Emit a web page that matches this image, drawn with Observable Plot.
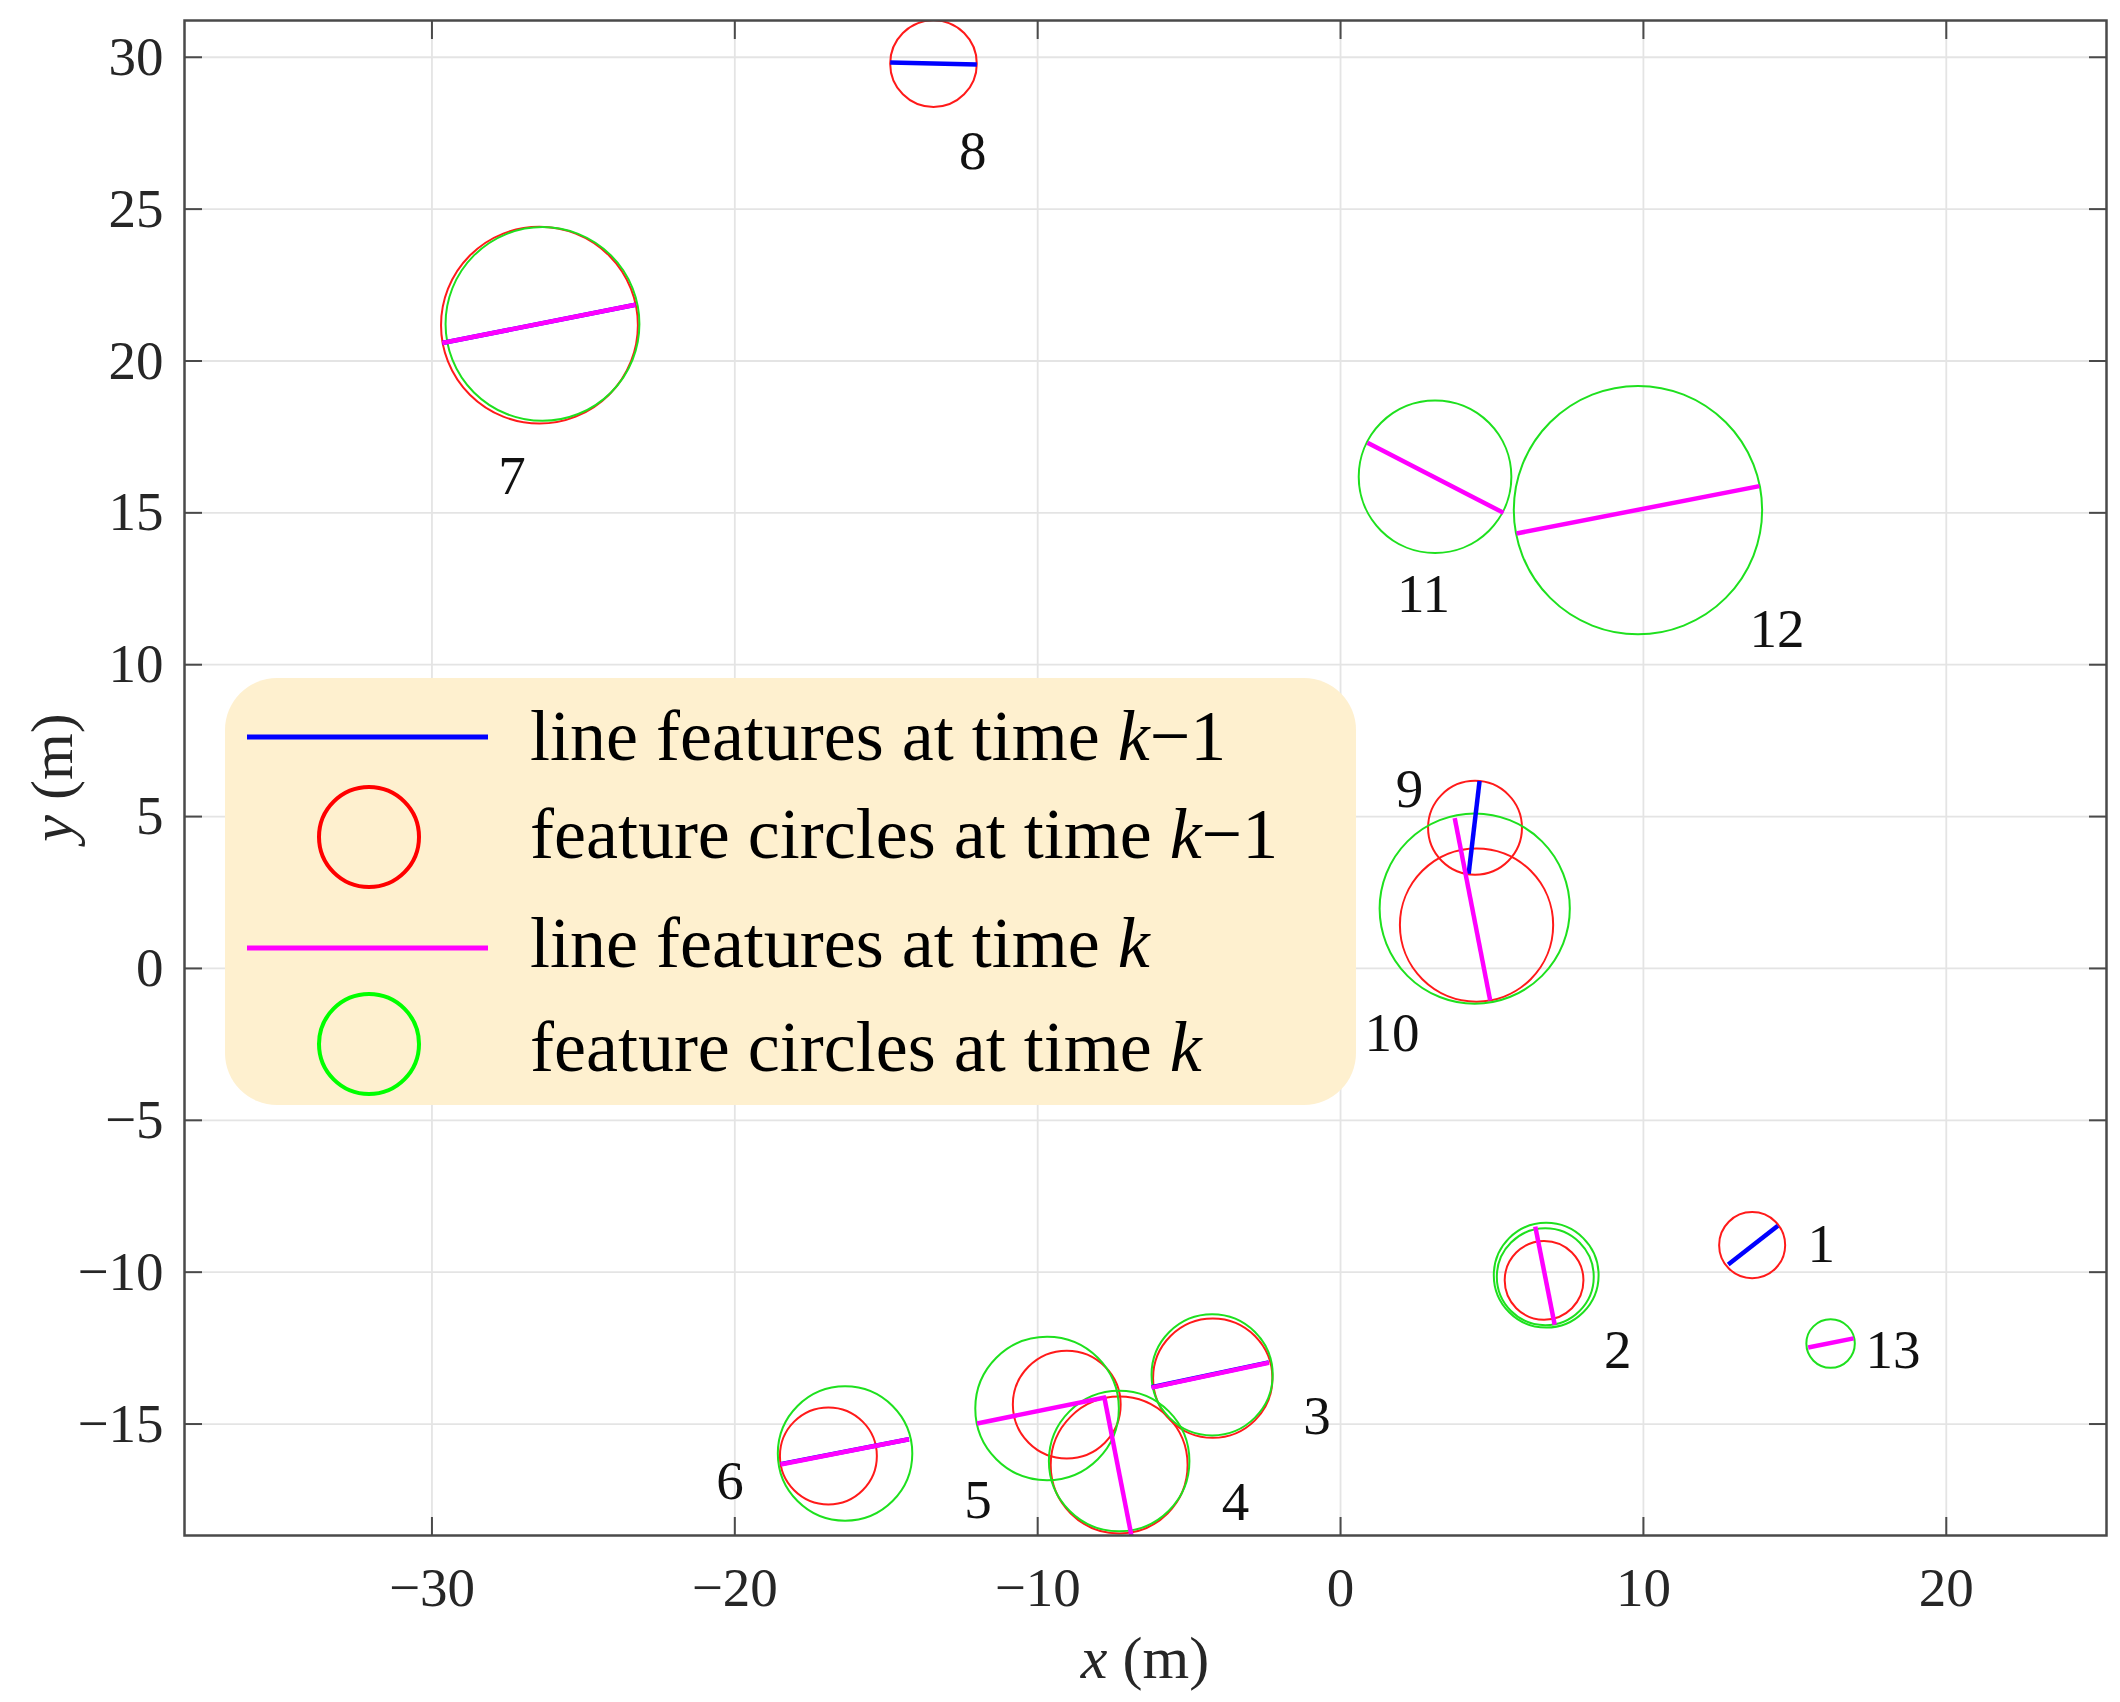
<!DOCTYPE html>
<html><head><meta charset="utf-8">
<script src="https://cdn.jsdelivr.net/npm/d3@7"></script>
<script src="https://cdn.jsdelivr.net/npm/@observablehq/plot@0.6"></script>
<style>
body{margin:0;background:#fff;}
#chart svg{display:block;}
</style>
</head><body><div id="chart"></div>
<script>
// ---- axes ----
const xTicks = [-30, -20, -10, 0, 10, 20];
const yTicks = [-15, -10, -5, 0, 5, 10, 15, 20, 25, 30];
const xDomain = [-38.17, 25.29];
const yDomain = [-18.67, 31.21];

// ---- feature circles at time k-1 (red) ----
const redCircles = [
  {id: 1, x: 13.59, y: -9.11, r: 1.09},
  {id: 2, x: 6.72, y: -10.27, r: 1.30},
  {id: 3, x: -4.22, y: -13.49, r: 1.97},
  {id: 4, x: -7.31, y: -16.35, r: 2.26},
  {id: 5, x: -9.04, y: -14.36, r: 1.78},
  {id: 6, x: -16.91, y: -16.05, r: 1.60},
  {id: 7, x: -26.45, y: 21.18, r: 3.25},
  {id: 8, x: -13.44, y: 29.79, r: 1.43},
  {id: 9, x: 4.44, y: 4.63, r: 1.55},
  {id: 10, x: 4.49, y: 1.43, r: 2.53}
];

// ---- feature circles at time k (green) ----
const greenCircles = [
  {id: 2, x: 6.79, y: -10.10, r: 1.73},
  {id: 2, x: 6.76, y: -10.15, r: 1.60},
  {id: 3, x: -4.24, y: -13.38, r: 2.00},
  {id: 4, x: -7.31, y: -16.22, r: 2.32},
  {id: 5, x: -9.69, y: -14.49, r: 2.37},
  {id: 6, x: -16.36, y: -15.97, r: 2.22},
  {id: 7, x: -26.35, y: 21.22, r: 3.20},
  {id: 10, x: 4.43, y: 1.97, r: 3.14},
  {id: 11, x: 3.12, y: 16.19, r: 2.52},
  {id: 12, x: 9.82, y: 15.09, r: 4.10},
  {id: 13, x: 16.18, y: -12.35, r: 0.80}
];

// ---- line features at time k-1 (blue) ----
const blueLines = [
  {id: 1, x1: 12.80, y1: -9.75, x2: 14.44, y2: -8.47},
  {id: 3, x1: -6.24, y1: -13.79, x2: -2.37, y2: -12.97},
  {id: 6, x1: -18.49, y1: -16.32, x2: -14.25, y2: -15.50},
  {id: 7, x1: -29.66, y1: 20.59, x2: -23.28, y2: 21.85},
  {id: 8, x1: -14.87, y1: 29.83, x2: -12.01, y2: 29.76},
  {id: 9, x1: 4.59, y1: 6.17, x2: 4.23, y2: 3.12}
];

// ---- line features at time k (magenta) ----
const magentaLines = [
  {id: 2, x1: 6.43, y1: -8.50, x2: 7.07, y2: -11.73},
  {id: 3, x1: -6.24, y1: -13.80, x2: -2.37, y2: -12.98},
  {id: 4, x1: -7.80, y1: -14.12, x2: -6.86, y2: -18.90},
  {id: 5, x1: -12.00, y1: -14.98, x2: -7.74, y2: -14.12},
  {id: 6, x1: -18.49, y1: -16.33, x2: -14.25, y2: -15.50},
  {id: 7, x1: -29.66, y1: 20.59, x2: -23.28, y2: 21.85},
  {id: 10, x1: 3.77, y1: 4.95, x2: 4.94, y2: -1.05},
  {id: 11, x1: 0.89, y1: 17.31, x2: 5.38, y2: 15.00},
  {id: 12, x1: 5.81, y1: 14.32, x2: 13.83, y2: 15.88},
  {id: 13, x1: 15.44, y1: -12.48, x2: 16.94, y2: -12.18}
];

// ---- feature number labels ----
const featureLabels = [
  {text: "1", x: 15.87, y: -9.10},
  {text: "2", x: 9.15, y: -12.58},
  {text: "3", x: -0.78, y: -14.75},
  {text: "4", x: -3.47, y: -17.57},
  {text: "5", x: -11.97, y: -17.50},
  {text: "6", x: -20.16, y: -16.88},
  {text: "7", x: -27.36, y: 16.20},
  {text: "8", x: -12.14, y: 26.90},
  {text: "9", x: 2.28, y: 5.90},
  {text: "10", x: 1.70, y: -2.14},
  {text: "11", x: 2.74, y: 12.31},
  {text: "12", x: 14.41, y: 11.16},
  {text: "13", x: 18.24, y: -12.58}
];

// ---- legend ----
const legendItems = [
  {kind: "line", color: "#0000ff", text: "line features at time ", italic: "k", tail: "\u22121"},
  {kind: "circle", color: "#ff0000", text: "feature circles at time ", italic: "k", tail: "\u22121"},
  {kind: "line", color: "#ff00ff", text: "line features at time ", italic: "k", tail: ""},
  {kind: "circle", color: "#00ff00", text: "feature circles at time ", italic: "k", tail: ""}
];

const W = 2120, H = 1702;
const mL = 184, mR = 14, mT = 20, mB = 167;
const pxPerUnit = (W - mL - mR) / (xDomain[1] - xDomain[0]);
const fmt = d => d < 0 ? "\u2212" + Math.abs(d) : String(d);
const font = "'Liberation Serif', 'Times New Roman', serif";
const axisColor = "#4a4a4a";
const gridColor = "#e4e4e4";

const chart = Plot.plot({
  width: W, height: H,
  marginLeft: mL, marginRight: mR, marginTop: mT, marginBottom: mB,
  style: {fontFamily: font, fontSize: "55px", color: "#262626", background: "#fff", overflow: "visible"},
  x: {domain: xDomain},
  y: {domain: yDomain},
  r: {type: "linear", domain: [0, 1], range: [0, pxPerUnit]},
  marks: [
    Plot.gridX(xTicks, {stroke: gridColor, strokeOpacity: 1, strokeWidth: 1.8}),
    Plot.gridY(yTicks, {stroke: gridColor, strokeOpacity: 1, strokeWidth: 1.8}),
    Plot.dot(redCircles, {x: "x", y: "y", r: "r", stroke: "#ff1a1a", strokeWidth: 2, fill: "none", clip: true}),
    Plot.dot(greenCircles, {x: "x", y: "y", r: "r", stroke: "#1ee01e", strokeWidth: 2, fill: "none", clip: true}),
    Plot.link(blueLines, {x1: "x1", y1: "y1", x2: "x2", y2: "y2", stroke: "#0000ff", strokeWidth: 4.5, clip: true}),
    Plot.link(magentaLines, {x1: "x1", y1: "y1", x2: "x2", y2: "y2", stroke: "#ff00ff", strokeWidth: 4.5, clip: true}),
    Plot.text(featureLabels, {x: "x", y: "y", text: "text", fontSize: 55, fill: "#111", textAnchor: "middle", lineAnchor: "middle"}),
    Plot.axisX(xTicks, {anchor: "bottom", tickSize: 0, tickPadding: 31, tickFormat: fmt, fontSize: 55, label: null}),
    Plot.axisY(yTicks, {anchor: "left", tickSize: 0, tickPadding: 21, tickFormat: fmt, fontSize: 55, label: null}),
    Plot.axisX(xTicks, {anchor: "bottom", tickSize: 18, dy: -18, fill: "none", stroke: axisColor, strokeWidth: 2, label: null}),
    Plot.axisX(xTicks, {anchor: "top", tickSize: 18, dy: 18, fill: "none", stroke: axisColor, strokeWidth: 2, label: null}),
    Plot.axisY(yTicks, {anchor: "left", tickSize: 18, dx: 18, fill: "none", stroke: axisColor, strokeWidth: 2, label: null}),
    Plot.axisY(yTicks, {anchor: "right", tickSize: 18, dx: -18, fill: "none", stroke: axisColor, strokeWidth: 2, label: null}),
    Plot.frame({stroke: axisColor, strokeWidth: 2.5})
  ]
});

document.getElementById("chart").appendChild(chart);

// ---- axis titles & legend (layout only) ----
const svg = d3.select(chart);
const ns = svg.append("g").attr("font-family", font).attr("fill", "#262626");

const xl = ns.append("text").attr("x", (mL + W - mR) / 2).attr("y", 1678)
  .attr("text-anchor", "middle").attr("font-size", 60);
xl.append("tspan").attr("font-style", "italic").text("x");
xl.append("tspan").text(" (m)");

const yl = ns.append("text").attr("transform", `translate(72,${(mT + H - mB) / 2}) rotate(-90)`)
  .attr("text-anchor", "middle").attr("font-size", 60);
yl.append("tspan").attr("font-style", "italic").text("y");
yl.append("tspan").text(" (m)");

const lg = svg.append("g").attr("font-family", font).attr("text-anchor", "start");
lg.append("rect").attr("x", 225).attr("y", 678).attr("width", 1131).attr("height", 427)
  .attr("rx", 52).attr("ry", 52).attr("fill", "#fef0cf");
const rowsY = [737, 837, 948, 1044];
const baseY = [760, 858, 967, 1071];
legendItems.forEach((it, i) => {
  if (it.kind === "line") {
    lg.append("line").attr("x1", 247).attr("x2", 488).attr("y1", rowsY[i]).attr("y2", rowsY[i])
      .attr("stroke", it.color).attr("stroke-width", 5);
  } else {
    lg.append("circle").attr("cx", 369).attr("cy", rowsY[i]).attr("r", 50)
      .attr("fill", "none").attr("stroke", it.color).attr("stroke-width", 4);
  }
  const t = lg.append("text").attr("x", 530).attr("y", baseY[i]).attr("font-size", 72)
    .attr("fill", "#000").attr("text-anchor", "start");
  t.append("tspan").text(it.text);
  t.append("tspan").attr("font-style", "italic").text(it.italic);
  if (it.tail) t.append("tspan").text(it.tail);
});
</script>
</body></html>
